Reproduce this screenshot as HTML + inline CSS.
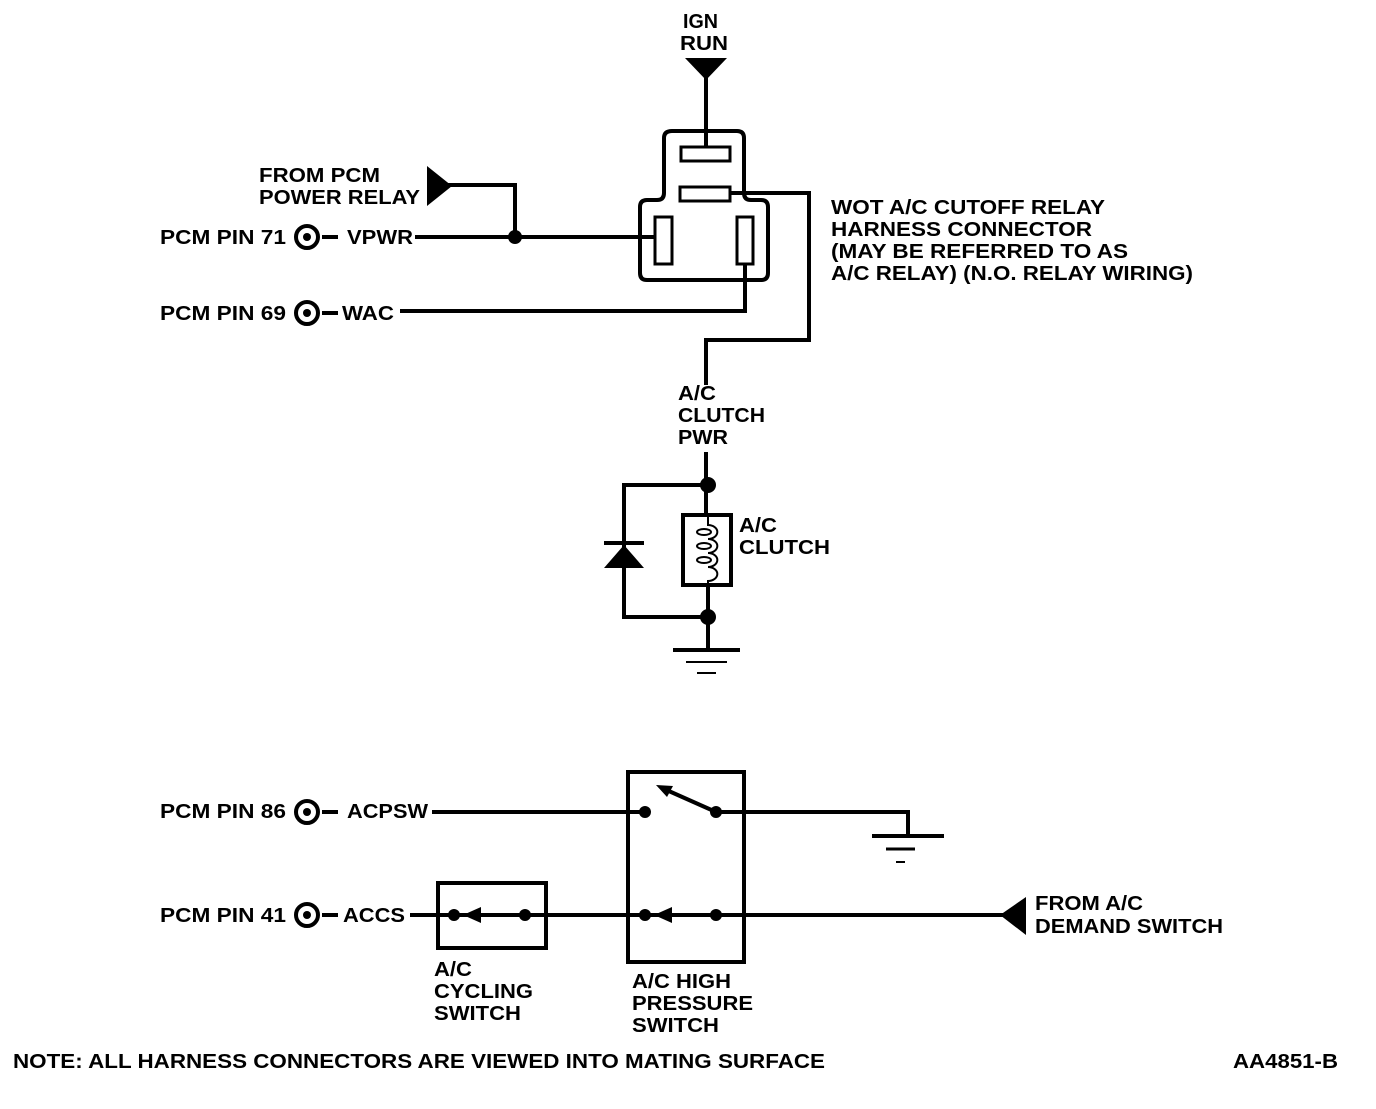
<!DOCTYPE html>
<html><head><style>
html,body{margin:0;padding:0;background:#fff;}
svg text{font-family:"Liberation Sans",Arial,sans-serif;font-weight:bold;font-size:20px;fill:#000;}
</style></head><body>
<svg width="1376" height="1104" viewBox="0 0 1376 1104" xmlns="http://www.w3.org/2000/svg">
<g stroke="#000" stroke-width="4" fill="none">
<line x1="706" y1="65" x2="706" y2="147"/>
<path d="M672 131 H737 Q744 131 744 138 V193 Q744 200 751 200 H761 Q768 200 768 207 V273 Q768 280 761 280 H647 Q640 280 640 273 V207 Q640 200 647 200 H657 Q664 200 664 193 V138 Q664 131 672 131 Z"/>
<rect x="681" y="147" width="49" height="14" stroke-width="3"/>
<rect x="680" y="187" width="50" height="14" stroke-width="3"/>
<rect x="655" y="217" width="17" height="47" stroke-width="3"/>
<rect x="737" y="217" width="16" height="47" stroke-width="3"/>
<polyline points="730,193 809,193 809,340 706,340 706,385"/>
<line x1="706" y1="452" x2="706" y2="515"/>
<polyline points="745,264 745,311 400,311"/>
<line x1="415" y1="237" x2="655" y2="237"/>
<polyline points="515,237 515,185 445,185"/>
<line x1="322" y1="237" x2="338" y2="237"/>
<line x1="322" y1="313" x2="338" y2="313"/>
<circle cx="307" cy="237" r="11"/>
<circle cx="307" cy="313" r="11"/>
<rect x="683" y="515" width="48" height="70"/>
<path d="M708 515 v10 a8 6 0 0 1 0 14 a8 6 0 0 1 0 14 a8 6 0 0 1 0 14 a8 6 0 0 1 0 14 v4" stroke-width="2"/>
<ellipse cx="704" cy="532" rx="7" ry="3" stroke-width="2"/>
<ellipse cx="704" cy="546" rx="7" ry="3" stroke-width="2"/>
<ellipse cx="704" cy="560" rx="7" ry="3" stroke-width="2"/>
<line x1="708" y1="585" x2="708" y2="650"/>
<polyline points="708,485 624,485 624,617 708,617"/>
<line x1="604" y1="543" x2="644" y2="543"/>
<line x1="673" y1="650" x2="740" y2="650"/>
<line x1="686" y1="662" x2="727" y2="662" stroke-width="2"/>
<line x1="697" y1="673" x2="716" y2="673" stroke-width="2"/>
<line x1="432" y1="812" x2="645" y2="812"/>
<polyline points="716,812 908,812 908,835"/>
<line x1="872" y1="836" x2="944" y2="836"/>
<line x1="886" y1="849" x2="915" y2="849" stroke-width="3"/>
<line x1="896" y1="862" x2="905" y2="862" stroke-width="2"/>
<line x1="716" y1="812" x2="662" y2="788"/>
<rect x="628" y="772" width="116" height="190"/>
<rect x="438" y="883" width="108" height="65"/>
<line x1="410" y1="915" x2="1005" y2="915"/>
</g>
<g fill="#000">
<polygon points="685,58 727,58 706,80"/>
<polygon points="427,166 427,206 452,186"/>
<circle cx="515" cy="237" r="7"/>
<circle cx="307" cy="237" r="4"/>
<circle cx="307" cy="313" r="4"/>
<circle cx="708" cy="485" r="8"/>
<circle cx="708" cy="617" r="8"/>
<polygon points="604,568 644,568 624,545"/>
<circle cx="645" cy="812" r="6"/>
<circle cx="716" cy="812" r="6"/>
<polygon points="656,785 673,786 667,797"/>
<circle cx="454" cy="915" r="6"/>
<circle cx="525" cy="915" r="6"/>
<polygon points="463,915 481,907 481,923"/>
<circle cx="645" cy="915" r="6"/>
<circle cx="716" cy="915" r="6"/>
<polygon points="654,915 672,907 672,923"/>
<polygon points="1000,915 1026,897 1026,935"/>
</g>
<g lengthAdjust="spacingAndGlyphs">
<text x="683" y="28" textLength="35" lengthAdjust="spacingAndGlyphs">IGN</text>
<text x="680" y="50" textLength="48" lengthAdjust="spacingAndGlyphs">RUN</text>
<text x="259" y="182" textLength="121" lengthAdjust="spacingAndGlyphs">FROM PCM</text>
<text x="259" y="204" textLength="161" lengthAdjust="spacingAndGlyphs">POWER RELAY</text>
<text x="160" y="244" textLength="126" lengthAdjust="spacingAndGlyphs">PCM PIN 71</text>
<text x="347" y="244" textLength="66" lengthAdjust="spacingAndGlyphs">VPWR</text>
<text x="160" y="320" textLength="126" lengthAdjust="spacingAndGlyphs">PCM PIN 69</text>
<text x="342" y="320" textLength="52" lengthAdjust="spacingAndGlyphs">WAC</text>
<text x="831" y="214" textLength="274" lengthAdjust="spacingAndGlyphs">WOT A/C CUTOFF RELAY</text>
<text x="831" y="236" textLength="261" lengthAdjust="spacingAndGlyphs">HARNESS CONNECTOR</text>
<text x="831" y="258" textLength="297" lengthAdjust="spacingAndGlyphs">(MAY BE REFERRED TO AS</text>
<text x="831" y="280" textLength="362" lengthAdjust="spacingAndGlyphs">A/C RELAY) (N.O. RELAY WIRING)</text>
<text x="678" y="400" textLength="38" lengthAdjust="spacingAndGlyphs">A/C</text>
<text x="678" y="422" textLength="87" lengthAdjust="spacingAndGlyphs">CLUTCH</text>
<text x="678" y="444" textLength="50" lengthAdjust="spacingAndGlyphs">PWR</text>
<text x="739" y="532" textLength="38" lengthAdjust="spacingAndGlyphs">A/C</text>
<text x="739" y="554" textLength="91" lengthAdjust="spacingAndGlyphs">CLUTCH</text>
<text x="160" y="818" textLength="126" lengthAdjust="spacingAndGlyphs">PCM PIN 86</text>
<text x="347" y="818" textLength="81" lengthAdjust="spacingAndGlyphs">ACPSW</text>
<text x="160" y="922" textLength="126" lengthAdjust="spacingAndGlyphs">PCM PIN 41</text>
<text x="343" y="922" textLength="62" lengthAdjust="spacingAndGlyphs">ACCS</text>
<text x="1035" y="910" textLength="108" lengthAdjust="spacingAndGlyphs">FROM A/C</text>
<text x="1035" y="933" textLength="188" lengthAdjust="spacingAndGlyphs">DEMAND SWITCH</text>
<text x="434" y="976" textLength="38" lengthAdjust="spacingAndGlyphs">A/C</text>
<text x="434" y="998" textLength="99" lengthAdjust="spacingAndGlyphs">CYCLING</text>
<text x="434" y="1020" textLength="87" lengthAdjust="spacingAndGlyphs">SWITCH</text>
<text x="632" y="988" textLength="99" lengthAdjust="spacingAndGlyphs">A/C HIGH</text>
<text x="632" y="1010" textLength="121" lengthAdjust="spacingAndGlyphs">PRESSURE</text>
<text x="632" y="1032" textLength="87" lengthAdjust="spacingAndGlyphs">SWITCH</text>
<text x="13" y="1068" textLength="812" lengthAdjust="spacingAndGlyphs">NOTE:  ALL HARNESS CONNECTORS ARE VIEWED INTO MATING SURFACE</text>
<text x="1233" y="1068" textLength="105" lengthAdjust="spacingAndGlyphs">AA4851-B</text>
</g>
<g stroke="#000" stroke-width="4">
<line x1="322" y1="812" x2="338" y2="812"/>
<line x1="322" y1="915" x2="338" y2="915"/>
</g>
<circle cx="307" cy="812" r="11" stroke="#000" stroke-width="4" fill="none"/>
<circle cx="307" cy="915" r="11" stroke="#000" stroke-width="4" fill="none"/>
<circle cx="307" cy="812" r="4"/>
<circle cx="307" cy="915" r="4"/>
</svg>
</body></html>
